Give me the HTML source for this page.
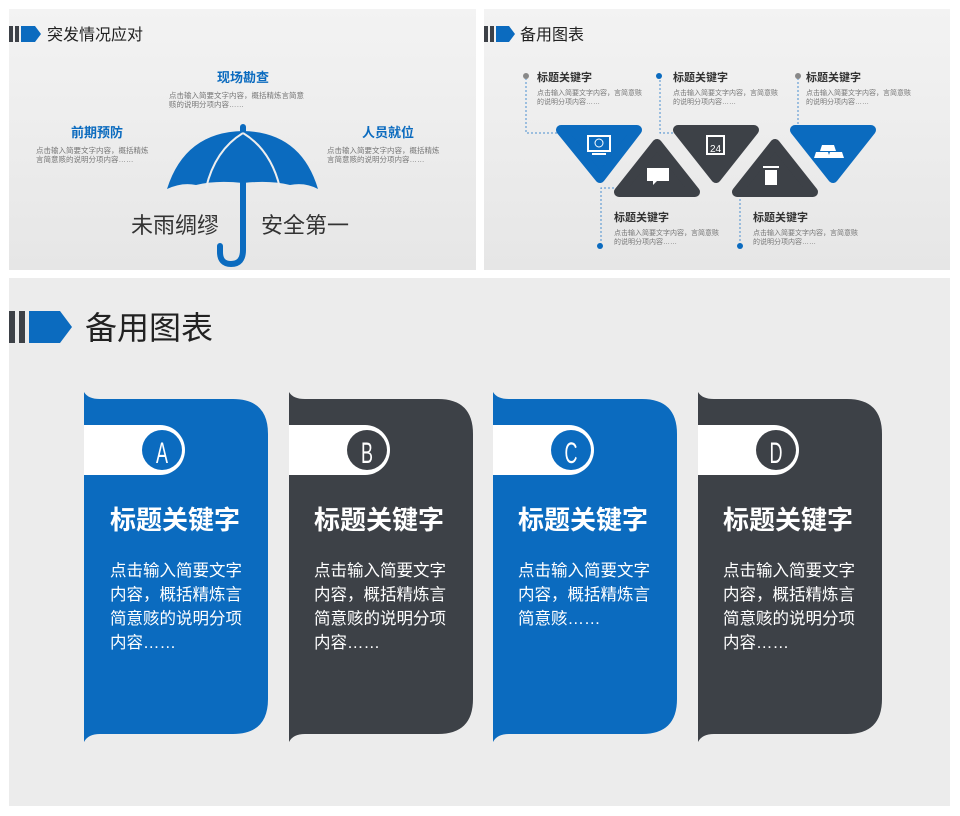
<!DOCTYPE html>
<html><head><meta charset="utf-8"><style>
body{margin:0;width:960px;height:816px;background:#fff;overflow:hidden;font-family:"Liberation Sans","Noto Sans CJK SC",sans-serif;}
svg{display:block}
</style></head><body>
<svg width="960" height="816" viewBox="0 0 960 816" xmlns="http://www.w3.org/2000/svg" font-family="Liberation Sans, Noto Sans CJK SC, sans-serif">
<defs>
<linearGradient id="bg" x1="0" y1="0" x2="0" y2="1"><stop offset="0" stop-color="#f3f3f3"/><stop offset="1" stop-color="#e6e6e6"/></linearGradient>
</defs>
<rect x="9" y="9" width="467" height="261" fill="url(#bg)"/>
<rect x="484" y="9" width="466" height="261" fill="url(#bg)"/>
<rect x="9" y="278" width="941" height="528" fill="#ececec"/>

<rect x="9" y="26" width="4" height="16" fill="#3d4147"/><rect x="15" y="26" width="4" height="16" fill="#3d4147"/>
<polygon points="21,26 35,26 41,34 35,42 21,42" fill="#0b6bbf"/>
<text x="47" y="40" font-size="16" fill="#222">突发情况应对</text>
<text x="243" y="82" font-size="13" font-weight="bold" fill="#0b6bbf" text-anchor="middle">现场勘查</text>
<text x="169" y="98" font-size="7.5" fill="#777">点击输入简要文字内容，概括精炼言简意</text>
<text x="169" y="107" font-size="7.5" fill="#777">赅的说明分项内容……</text>
<text x="97" y="137" font-size="13" font-weight="bold" fill="#0b6bbf" text-anchor="middle">前期预防</text>
<text x="36" y="153" font-size="7.5" fill="#777">点击输入简要文字内容，概括精炼</text>
<text x="36" y="162" font-size="7.5" fill="#777">言简意赅的说明分项内容……</text>
<text x="388" y="137" font-size="13" font-weight="bold" fill="#0b6bbf" text-anchor="middle">人员就位</text>
<text x="327" y="153" font-size="7.5" fill="#777">点击输入简要文字内容，概括精炼</text>
<text x="327" y="162" font-size="7.5" fill="#777">言简意赅的说明分项内容……</text>
<rect x="240" y="124" width="6" height="10" rx="3" fill="#0b6bbf"/>
<path d="M167,189 Q185,132 243,131 Q301,132 318,189 Q305,182 290,185 Q270,180 243,183 Q216,180 196,185 Q182,182 167,189 Z" fill="#0b6bbf"/>
<path d="M243,133 Q215,150 206,188 M243,133 Q271,150 280,188" stroke="#eee" stroke-width="2" fill="none"/>
<path d="M243,183 L243,250 Q243,264 231,264 Q220,264 220,252 L220,246" stroke="#0b6bbf" stroke-width="6" fill="none" stroke-linecap="round"/>
<text x="175" y="233" font-size="22" fill="#333" text-anchor="middle">未雨绸缪</text>
<text x="305" y="233" font-size="22" fill="#333" text-anchor="middle">安全第一</text>

<rect x="484" y="26" width="4" height="16" fill="#3d4147"/><rect x="490" y="26" width="4" height="16" fill="#3d4147"/>
<polygon points="496,26 509,26 515,34 509,42 496,42" fill="#0b6bbf"/>
<text x="520" y="40" font-size="16" fill="#222">备用图表</text>
<g stroke="#4a8fd0" stroke-width="1" stroke-dasharray="2,2" fill="none">
<path d="M526,78 V133 H558"/><path d="M660,76 V133 H680"/><path d="M798,78 V133"/>
<path d="M601,245 V188 H620"/><path d="M740,245 V188 H745"/>
</g>
<circle cx="526" cy="76" r="3" fill="#888"/><circle cx="659" cy="76" r="3" fill="#0b6bbf"/><circle cx="798" cy="76" r="3" fill="#888"/>
<circle cx="600" cy="246" r="3" fill="#0b6bbf"/><circle cx="740" cy="246" r="3" fill="#0b6bbf"/>
<g stroke-linejoin="round" stroke-width="10">
<polygon points="561,130 637,130 600,178" fill="#0b6bbf" stroke="#0b6bbf"/>
<polygon points="678,130 754,130 716,178" fill="#3d4147" stroke="#3d4147"/>
<polygon points="795,130 871,130 833,178" fill="#0b6bbf" stroke="#0b6bbf"/>
<polygon points="657,144 619,192 695,192" fill="#3d4147" stroke="#3d4147"/>
<polygon points="775,144 737,192 813,192" fill="#3d4147" stroke="#3d4147"/>
</g>
<g fill="#fff">
<rect x="588" y="136" width="22" height="15" fill="none" stroke="#fff" stroke-width="2"/><circle cx="599" cy="143" r="4" fill="none" stroke="#fff"/><rect x="592" y="153" width="14" height="2"/>
<path d="M647,168 h22 v13 h-12 l-4,4 v-4 h-6 z"/>
<rect x="707" y="136" width="17" height="18" fill="none" stroke="#fff" stroke-width="2"/>
<text x="715.5" y="152" font-size="10" text-anchor="middle">24</text>
<rect x="763" y="166" width="16" height="2"/><path d="M765,170 h12 v15 h-12 z"/>
<path d="M822,145 h12 l2,6 h-16 z M816,152 h12 l2,6 h-16 z M830,152 h12 l2,6 h-16 z"/>
</g>
<g font-size="11" font-weight="bold" fill="#333">
<text x="537" y="81">标题关键字</text><text x="673" y="81">标题关键字</text><text x="806" y="81">标题关键字</text>
<text x="614" y="221">标题关键字</text><text x="753" y="221">标题关键字</text>
</g>
<g font-size="7" fill="#777">
<text x="537" y="95">点击输入简要文字内容，言简意赅</text><text x="537" y="104">的说明分项内容……</text>
<text x="673" y="95">点击输入简要文字内容，言简意赅</text><text x="673" y="104">的说明分项内容……</text>
<text x="806" y="95">点击输入简要文字内容，言简意赅</text><text x="806" y="104">的说明分项内容……</text>
<text x="614" y="235">点击输入简要文字内容，言简意赅</text><text x="614" y="244">的说明分项内容……</text>
<text x="753" y="235">点击输入简要文字内容，言简意赅</text><text x="753" y="244">的说明分项内容……</text>
</g>

<rect x="9" y="311" width="6" height="32" fill="#3d4147"/><rect x="19" y="311" width="6" height="32" fill="#3d4147"/>
<polygon points="29,311 60,311 72,327 60,343 29,343" fill="#0b6bbf"/>
<text x="85" y="339" font-size="32" fill="#222">备用图表</text>

<g>
<g transform="translate(0,0)">
<path d="M84,392 Q88,399 100,399 L233,399 Q268,399 268,434 L268,699 Q268,734 233,734 L100,734 Q88,734 84,742 Z" fill="#0b6bbf"/>
<path d="M84,425 H160 A25,25 0 0 1 160,475 H84 Z" fill="#fff"/>
<circle cx="162" cy="450" r="20" fill="#0b6bbf"/>
<text x="162" y="463" font-size="30" fill="#fff" text-anchor="middle" transform="translate(162,0) scale(0.6,1) translate(-162,0)">A</text>
</g>
<g transform="translate(205,0)">
<path d="M84,392 Q88,399 100,399 L233,399 Q268,399 268,434 L268,699 Q268,734 233,734 L100,734 Q88,734 84,742 Z" fill="#3d4147"/>
<path d="M84,425 H160 A25,25 0 0 1 160,475 H84 Z" fill="#fff"/>
<circle cx="162" cy="450" r="20" fill="#3d4147"/>
<text x="162" y="463" font-size="30" fill="#fff" text-anchor="middle" transform="translate(162,0) scale(0.6,1) translate(-162,0)">B</text>
</g>
<g transform="translate(409,0)">
<path d="M84,392 Q88,399 100,399 L233,399 Q268,399 268,434 L268,699 Q268,734 233,734 L100,734 Q88,734 84,742 Z" fill="#0b6bbf"/>
<path d="M84,425 H160 A25,25 0 0 1 160,475 H84 Z" fill="#fff"/>
<circle cx="162" cy="450" r="20" fill="#0b6bbf"/>
<text x="162" y="463" font-size="30" fill="#fff" text-anchor="middle" transform="translate(162,0) scale(0.6,1) translate(-162,0)">C</text>
</g>
<g transform="translate(614,0)">
<path d="M84,392 Q88,399 100,399 L233,399 Q268,399 268,434 L268,699 Q268,734 233,734 L100,734 Q88,734 84,742 Z" fill="#3d4147"/>
<path d="M84,425 H160 A25,25 0 0 1 160,475 H84 Z" fill="#fff"/>
<circle cx="162" cy="450" r="20" fill="#3d4147"/>
<text x="162" y="463" font-size="30" fill="#fff" text-anchor="middle" transform="translate(162,0) scale(0.6,1) translate(-162,0)">D</text>
</g>
</g>
<g fill="#fff" font-size="26" font-weight="bold">
<text x="110" y="529">标题关键字</text><text x="314" y="529">标题关键字</text><text x="518" y="529">标题关键字</text><text x="723" y="529">标题关键字</text>
</g>
<g fill="#fff" font-size="16.5">
<text x="110" y="576">点击输入简要文字</text><text x="110" y="600">内容，概括精炼言</text><text x="110" y="624">简意赅的说明分项</text><text x="110" y="648">内容……</text>
<text x="314" y="576">点击输入简要文字</text><text x="314" y="600">内容，概括精炼言</text><text x="314" y="624">简意赅的说明分项</text><text x="314" y="648">内容……</text>
<text x="518" y="576">点击输入简要文字</text><text x="518" y="600">内容，概括精炼言</text><text x="518" y="624">简意赅……</text>
<text x="723" y="576">点击输入简要文字</text><text x="723" y="600">内容，概括精炼言</text><text x="723" y="624">简意赅的说明分项</text><text x="723" y="648">内容……</text>
</g>
</svg>
</body></html>
